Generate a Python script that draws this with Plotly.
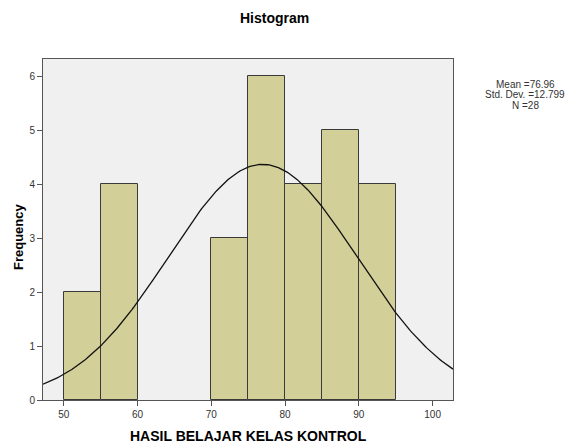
import numpy as np
import plotly.graph_objects as go

# Data
bin_starts = [50, 55, 70, 75, 80, 85, 90]
bin_width = 5
frequencies = [2, 4, 3, 6, 4, 5, 4]
mean_val = 76.96
std_dev = 12.799
n_val = 28
x_ticks = [50, 60, 70, 80, 90, 100]
y_ticks = [0, 1, 2, 3, 4, 5, 6]

x_min, x_max = 47.19, 102.76
y_min, y_max = 0, 6.315

centers = [b + bin_width / 2 for b in bin_starts]

# Fitted normal curve (SPSS style) from stated mean / sd / N
xc = np.linspace(x_min, x_max, 300)
yc = n_val * bin_width / (std_dev * np.sqrt(2 * np.pi)) * np.exp(-0.5 * ((xc - mean_val) / std_dev) ** 2)

fig = go.Figure()
fig.add_trace(go.Bar(
    x=centers, y=frequencies, width=[bin_width] * len(centers),
    marker=dict(color="#d3cf98", line=dict(color="#3a3a3a", width=1)),
    hoverinfo="skip",
))
fig.add_trace(go.Scatter(
    x=xc, y=yc, mode="lines", line=dict(color="#111111", width=1.3),
    hoverinfo="skip",
))

font_family = "Liberation Sans, Arial, sans-serif"
L, R, T, B = 43, 115, 59, 43
W, H = 568, 443
pw, ph = W - L - R, H - T - B
fig.update_layout(
    width=W, height=H,
    margin=dict(l=L, r=R, t=T, b=B, autoexpand=False),
    paper_bgcolor="white",
    plot_bgcolor="#f0f0f0",
    showlegend=False,
    bargap=0,
    font=dict(family=font_family),
)
fig.update_xaxes(
    range=[x_min, x_max], tickvals=x_ticks, ticks="outside", ticklen=5, tickcolor="#555",
    tickfont=dict(size=10, color="#333"), showgrid=False, zeroline=False,
    showline=True, linecolor="#555", linewidth=1, mirror=True, automargin=False,
)
fig.update_yaxes(
    range=[y_min, y_max], tickvals=y_ticks, ticks="outside", ticklen=5, tickcolor="#555",
    tickfont=dict(size=10, color="#333"), showgrid=False, zeroline=False,
    showline=True, linecolor="#555", linewidth=1, mirror=True, automargin=False,
)

def px_x(px):
    return (px - L) / pw

def px_y(py):
    return (H - B - py) / ph

fig.add_annotation(xref="paper", yref="paper", x=px_x(274), y=px_y(18),
                   text="<b>Histogram</b>", showarrow=False, xanchor="center", yanchor="middle",
                   font=dict(family=font_family, size=14, color="#000"))
fig.add_annotation(xref="paper", yref="paper", x=px_x(248), y=px_y(436),
                   text="<b>HASIL BELAJAR KELAS KONTROL</b>", showarrow=False, xanchor="center", yanchor="middle",
                   font=dict(family=font_family, size=14, color="#000"))
fig.add_annotation(xref="paper", yref="paper", x=px_x(18), y=px_y(237),
                   text="<b>Frequency</b>", showarrow=False, xanchor="center", yanchor="middle", textangle=-90,
                   font=dict(family=font_family, size=13, color="#000"))
stat_lines = [f"Mean ={mean_val}", f"Std. Dev. ={std_dev}", f"N ={n_val}"]
for i, line in enumerate(stat_lines):
    fig.add_annotation(
        xref="paper", yref="paper", x=px_x(525), y=px_y(84 + 10.5 * i),
        text=line, showarrow=False, xanchor="center", yanchor="middle",
        font=dict(family=font_family, size=10, color="#333"),
    )
fig.write_html(
    "out.html",
    config={"displayModeBar": False},
    post_script="document.body.style.margin='0';document.body.style.padding='0';document.body.style.overflow='hidden';",
)
